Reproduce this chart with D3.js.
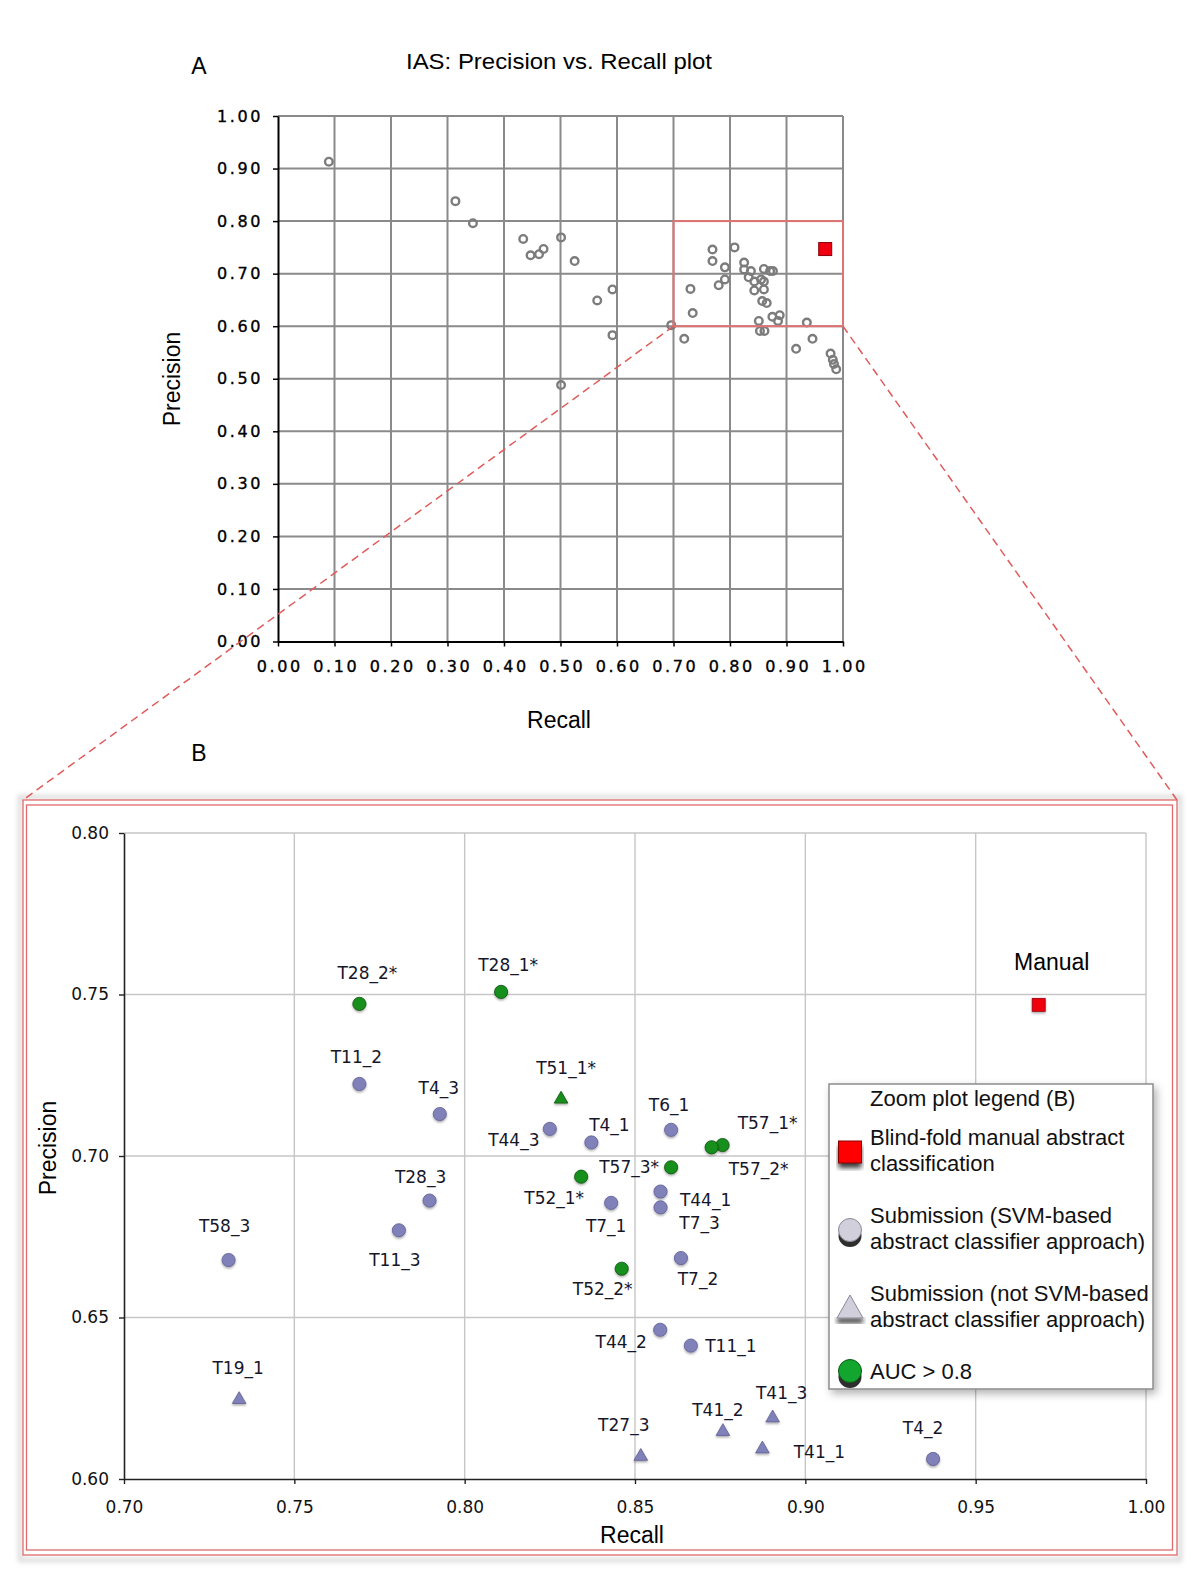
<!DOCTYPE html>
<html>
<head>
<meta charset="utf-8">
<script src="https://cdn.jsdelivr.net/npm/d3@7"></script>
<style>
body { margin: 0; background: #fff; }
svg { display: block; }
</style>
</head>
<body>
<script>
// ==================================================
// data
// ==================================================
// panel A: all submissions (recall / precision)
const overviewRecall = [
    0.090, 0.314, 0.345, 0.434, 0.447, 0.462, 0.470, 0.501, 0.525, 0.501,
    0.592, 0.565, 0.592, 0.696, 0.719, 0.730, 0.734, 0.769, 0.769, 0.808,
    0.791, 0.791, 0.780, 0.825, 0.825, 0.837, 0.833, 0.843, 0.860, 0.855,
    0.860, 0.871, 0.876, 0.860, 0.843, 0.857, 0.865, 0.875, 0.888, 0.885,
    0.851, 0.853, 0.861, 0.936, 0.946, 0.917, 0.978, 0.982, 0.984, 0.988
];
const overviewPrecision = [
    0.913, 0.838, 0.796, 0.766, 0.735, 0.737, 0.747, 0.769, 0.724, 0.488,
    0.670, 0.649, 0.583, 0.602, 0.576, 0.671, 0.625, 0.746, 0.724, 0.750,
    0.712, 0.689, 0.678, 0.721, 0.708, 0.705, 0.693, 0.685, 0.709, 0.689,
    0.685, 0.705, 0.705, 0.670, 0.668, 0.648, 0.644, 0.618, 0.621, 0.610,
    0.610, 0.591, 0.591, 0.607, 0.576, 0.557, 0.548, 0.536, 0.528, 0.518
];

// manual classification
const manualLabel = 'Manual';
const manualRecall = 0.9685;
const manualPrecision = 0.7468;

// panel B: labelled submissions
const zoomLabels = [
    'T28_2*', 'T28_1*', 'T11_2', 'T4_3', 'T51_1*', 'T44_3', 'T4_1', 'T6_1',
    'T57_1*', 'T57_2*', 'T57_3*', 'T52_1*', 'T7_1', 'T44_1', 'T7_3', 'T7_2',
    'T52_2*', 'T28_3', 'T11_3', 'T58_3', 'T19_1', 'T44_2', 'T11_1', 'T41_3',
    'T41_2', 'T27_3', 'T41_1', 'T4_2'
];
const zoomRecall = [
    0.7691, 0.8107, 0.7691, 0.7927, 0.8283, 0.8250, 0.8372, 0.8606,
    0.8757, 0.8725, 0.8606, 0.8342, 0.8430, 0.8575, 0.8575, 0.8635,
    0.8461, 0.7897, 0.7807, 0.7307, 0.7338, 0.8574, 0.8664, 0.8904,
    0.8758, 0.8517, 0.8874, 0.9375
];
const zoomPrecision = [
    0.7471, 0.7508, 0.7223, 0.7130, 0.7176, 0.7084, 0.7042, 0.7081,
    0.7034, 0.7027, 0.6965, 0.6936, 0.6855, 0.6890, 0.6841, 0.6684,
    0.6651, 0.6862, 0.6770, 0.6678, 0.6246, 0.6462, 0.6413, 0.6189,
    0.6147, 0.6070, 0.6093, 0.6062
];
// 'svm' = SVM-based abstract classifier, 'other' = not SVM-based
const zoomApproach = [
    'svm', 'svm', 'svm', 'svm', 'other', 'svm', 'svm', 'svm',
    'svm', 'svm', 'svm', 'svm', 'svm', 'svm', 'svm', 'svm',
    'svm', 'svm', 'svm', 'svm', 'other', 'svm', 'svm', 'other',
    'other', 'other', 'other', 'svm'
];
// AUC > 0.8
const zoomHighAuc = [
    true, true, false, false, true, false, false, false,
    true, true, true, true, false, false, false, false,
    true, false, false, false, false, false, false, false,
    false, false, false, false
];

// tick values
const overviewTicks = [0, 0.1, 0.2, 0.3, 0.4, 0.5, 0.6, 0.7, 0.8, 0.9, 1.0];
const zoomXTicks = [0.70, 0.75, 0.80, 0.85, 0.90, 0.95, 1.00];
const zoomYTicks = [0.60, 0.65, 0.70, 0.75, 0.80];

// legend entries
const legendTitle = 'Zoom plot legend (B)';
const legendLines = [
    ['Blind-fold manual abstract', 'classification'],
    ['Submission (SVM-based', 'abstract classifier approach)'],
    ['Submission (not SVM-based', 'abstract classifier approach)'],
    ['AUC > 0.8']
];

// ==================================================
// layout: label offsets (px) from each point in panel B
// ==================================================
const labelOffsets = [
    [8, -31], [7, -27], [-3, -27], [-1, -26], [5, -31], [-36, 11], [18, -17], [-2, -25],
    [45, -22], [47, 22], [-42, 0], [-27, 21], [-5, 23], [45, 8], [39, 16], [17, 21],
    [-19, 20], [-9, -24], [-4, 30], [-4, -34], [-1, -32], [-39, 12], [40, 0], [9, -25],
    [-5, -22], [-17, -31], [57, 3], [-10, -31]
];

const PURPLE = '#8181b9';
const PURPLE_DARK = '#5e5e94';
const GREEN = '#178f1c';
const GREEN_DARK = '#0b4f0d';
const RED = '#ee0010';

function drawGrid(g, xs, ys, xTicks, yTicks, color, width) {
    g.selectAll('line.vgrid')
        .data(xTicks.slice(1))
        .enter()
        .append('line')
        .attr('x1', d => xs(d)).attr('x2', d => xs(d))
        .attr('y1', ys.range()[0]).attr('y2', ys.range()[1])
        .attr('stroke', color)
        .attr('stroke-width', width);

    g.selectAll('line.hgrid')
        .data(yTicks.slice(1))
        .enter()
        .append('line')
        .attr('y1', d => ys(d)).attr('y2', d => ys(d))
        .attr('x1', xs.range()[0]).attr('x2', xs.range()[1])
        .attr('stroke', color)
        .attr('stroke-width', width);
}

function renderSVG() {
    const width = 1200;
    const height = 1585;

    const svg = d3.select('body')
        .append('svg')
        .attr('width', width)
        .attr('height', height);

    svg.append('rect')
        .attr('width', width).attr('height', height)
        .attr('fill', '#fff');

    const defs = svg.append('defs');
    defs.append('filter').attr('id', 'markShadow')
        .attr('x', '-50%').attr('y', '-50%').attr('width', '200%').attr('height', '200%')
        .append('feDropShadow')
        .attr('dx', 0).attr('dy', 1.5).attr('stdDeviation', 0.9)
        .attr('flood-color', '#000').attr('flood-opacity', 0.35);
    defs.append('filter').attr('id', 'boxShadow')
        .attr('x', '-10%').attr('y', '-10%').attr('width', '130%').attr('height', '130%')
        .append('feDropShadow')
        .attr('dx', 3).attr('dy', 4).attr('stdDeviation', 4)
        .attr('flood-color', '#000').attr('flood-opacity', 0.3);
    defs.append('filter').attr('id', 'soft')
        .append('feGaussianBlur').attr('stdDeviation', 2.5);

    // ==================================================
    // panel A: overview
    // ==================================================
    const ax = d3.scaleLinear().domain([0, 1]).range([278, 843]);
    const ay = d3.scaleLinear().domain([0, 1]).range([641.5, 116]);

    const gA = svg.append('g');
    drawGrid(gA, ax, ay, overviewTicks, overviewTicks, '#8a8a8a', 2);

    const tickFont = g => g.selectAll('text')
        .attr('font-family', 'DejaVu Sans, Verdana, sans-serif')
        .attr('font-size', '16px')
        .attr('letter-spacing', '2.6px')
        .attr('stroke', '#000')
        .attr('stroke-width', 0.35)
        .attr('fill', '#000');

    gA.append('g')
        .attr('transform', `translate(${ax(0)},0)`)
        .call(d3.axisLeft(ay).tickValues(overviewTicks).tickFormat(d3.format('.2f'))
            .tickSize(5).tickSizeOuter(0).tickPadding(10))
        .call(g => g.select('.domain').attr('stroke', '#000').attr('stroke-width', 2))
        .call(g => g.selectAll('.tick line').attr('stroke', '#000').attr('stroke-width', 1.5))
        .call(tickFont);

    gA.append('g')
        .attr('transform', `translate(0,${ay(0)})`)
        .call(d3.axisBottom(ax).tickValues(overviewTicks).tickFormat(d3.format('.2f'))
            .tickSize(5).tickSizeOuter(0).tickPadding(14))
        .call(g => g.select('.domain').attr('stroke', '#000').attr('stroke-width', 2))
        .call(g => g.selectAll('.tick line').attr('stroke', '#000').attr('stroke-width', 1.5))
        .call(tickFont)
        .call(g => g.selectAll('text').attr('dx', '1.3px'));

    const overview = overviewRecall.map((r, i) => ({ r, p: overviewPrecision[i] }));
    gA.selectAll('circle.ov')
        .data(overview)
        .enter()
        .append('circle')
        .attr('class', 'ov')
        .attr('cx', d => ax(d.r))
        .attr('cy', d => ay(d.p))
        .attr('r', 3.8)
        .attr('fill', 'none')
        .attr('stroke', '#7c7c7c')
        .attr('stroke-width', 2.4);

    gA.append('rect')
        .attr('x', ax(manualRecall) - 6.5)
        .attr('y', ay(manualPrecision) - 6.5)
        .attr('width', 13).attr('height', 13)
        .attr('fill', RED)
        .attr('stroke', '#8a0008')
        .attr('stroke-width', 1);

    // zoom window
    gA.append('rect')
        .attr('x', ax(0.7)).attr('y', ay(0.8))
        .attr('width', ax(1.0) - ax(0.7))
        .attr('height', ay(0.6) - ay(0.8))
        .attr('fill', 'none')
        .attr('stroke', '#e07474')
        .attr('stroke-width', 2);

    svg.append('text')
        .attr('x', 559).attr('y', 69)
        .attr('text-anchor', 'middle')
        .attr('font-family', 'Liberation Sans, Arial, sans-serif')
        .attr('font-size', '22.5px')
        .attr('textLength', 306)
        .attr('lengthAdjust', 'spacingAndGlyphs')
        .text('IAS: Precision vs. Recall plot');

    svg.append('text')
        .attr('x', 199).attr('y', 74)
        .attr('text-anchor', 'middle')
        .attr('font-family', 'Liberation Sans, Arial, sans-serif')
        .attr('font-size', '23px')
        .text('A');

    svg.append('text')
        .attr('x', 199).attr('y', 761)
        .attr('text-anchor', 'middle')
        .attr('font-family', 'Liberation Sans, Arial, sans-serif')
        .attr('font-size', '23px')
        .text('B');

    svg.append('text')
        .attr('x', 559).attr('y', 728)
        .attr('text-anchor', 'middle')
        .attr('font-family', 'Liberation Sans, Arial, sans-serif')
        .attr('font-size', '23px')
        .text('Recall');

    svg.append('text')
        .attr('transform', 'translate(180,379) rotate(-90)')
        .attr('text-anchor', 'middle')
        .attr('font-family', 'Liberation Sans, Arial, sans-serif')
        .attr('font-size', '23px')
        .text('Precision');

    // ==================================================
    // panel B frame and connectors
    // ==================================================
    const box = { x0: 23, y0: 800, x1: 1177, y1: 1555 };

    svg.append('rect')
        .attr('x', box.x0 - 3).attr('y', box.y0 - 3)
        .attr('width', box.x1 - box.x0 + 6).attr('height', box.y1 - box.y0 + 8)
        .attr('fill', 'none')
        .attr('stroke', '#d8d8d8')
        .attr('stroke-width', 4)
        .attr('filter', 'url(#soft)');

    [[ax(0.7), box.x0], [ax(1.0), box.x1]].forEach(([xa, xb]) => {
        svg.append('line')
            .attr('x1', xa).attr('y1', ay(0.6))
            .attr('x2', xb).attr('y2', box.y0)
            .attr('stroke', '#e05c5c')
            .attr('stroke-width', 1.5)
            .attr('stroke-dasharray', '8,5');
    });

    svg.append('rect')
        .attr('x', box.x0).attr('y', box.y0)
        .attr('width', box.x1 - box.x0).attr('height', box.y1 - box.y0)
        .attr('fill', '#fff')
        .attr('stroke', '#e06a6a')
        .attr('stroke-width', 1.3);

    svg.append('rect')
        .attr('x', box.x0 + 3.5).attr('y', box.y0 + 5)
        .attr('width', box.x1 - box.x0 - 8).attr('height', box.y1 - box.y0 - 10)
        .attr('fill', 'none')
        .attr('stroke', '#e06a6a')
        .attr('stroke-width', 1.3);

    // ==================================================
    // panel B: zoom plot
    // ==================================================
    const bx = d3.scaleLinear().domain([0.7, 1.0]).range([124, 1146]);
    const by = d3.scaleLinear().domain([0.6, 0.8]).range([1479, 833]);

    const gB = svg.append('g');
    drawGrid(gB, bx, by, zoomXTicks, zoomYTicks, '#c6c6c6', 1.4);

    const zoomTickFont = g => g.selectAll('text')
        .attr('font-family', 'DejaVu Sans, Verdana, sans-serif')
        .attr('font-size', '17px')
        .attr('fill', '#111');

    gB.append('g')
        .attr('transform', `translate(${bx(0.7)},0)`)
        .call(d3.axisLeft(by).tickValues(zoomYTicks).tickFormat(d3.format('.2f'))
            .tickSize(5).tickSizeOuter(0).tickPadding(10))
        .call(g => g.select('.domain').attr('stroke', '#222').attr('stroke-width', 1.6))
        .call(g => g.selectAll('.tick line').attr('stroke', '#222').attr('stroke-width', 1.4))
        .call(zoomTickFont);

    gB.append('g')
        .attr('transform', `translate(0,${by(0.6)})`)
        .call(d3.axisBottom(bx).tickValues(zoomXTicks).tickFormat(d3.format('.2f'))
            .tickSize(5).tickSizeOuter(0).tickPadding(17))
        .call(g => g.select('.domain').attr('stroke', '#222').attr('stroke-width', 1.6))
        .call(g => g.selectAll('.tick line').attr('stroke', '#222').attr('stroke-width', 1.4))
        .call(zoomTickFont);

    svg.append('text')
        .attr('x', 632).attr('y', 1543)
        .attr('text-anchor', 'middle')
        .attr('font-family', 'Liberation Sans, Arial, sans-serif')
        .attr('font-size', '23px')
        .text('Recall');

    svg.append('text')
        .attr('transform', 'translate(56,1148) rotate(-90)')
        .attr('text-anchor', 'middle')
        .attr('font-family', 'Liberation Sans, Arial, sans-serif')
        .attr('font-size', '23px')
        .text('Precision');

    const zoomPoints = zoomLabels.map((label, i) => ({
        label,
        r: zoomRecall[i],
        p: zoomPrecision[i],
        approach: zoomApproach[i],
        auc: zoomHighAuc[i],
        off: labelOffsets[i]
    }));

    const triangle = d3.symbol().type(d3.symbolTriangle).size(80);

    gB.selectAll('path.mark')
        .data(zoomPoints)
        .enter()
        .append('path')
        .attr('class', 'mark')
        .attr('transform', d => `translate(${bx(d.r)},${by(d.p)})`)
        .attr('d', d => d.approach === 'svm'
            ? d3.symbol().type(d3.symbolCircle).size(Math.PI * 6.6 * 6.6)()
            : triangle())
        .attr('fill', d => d.auc ? GREEN : PURPLE)
        .attr('stroke', d => d.auc ? GREEN_DARK : PURPLE_DARK)
        .attr('stroke-width', 0.8)
        .attr('filter', 'url(#markShadow)');

    gB.selectAll('text.pt-label')
        .data(zoomPoints)
        .enter()
        .append('text')
        .attr('class', 'pt-label')
        .attr('x', d => bx(d.r) + d.off[0])
        .attr('y', d => by(d.p) + d.off[1] + 6)
        .attr('text-anchor', 'middle')
        .attr('font-family', 'DejaVu Sans, Verdana, sans-serif')
        .attr('font-size', '17px')
        .attr('fill', '#16162a')
        .text(d => d.label);

    // manual point
    gB.append('rect')
        .attr('x', bx(manualRecall) - 6.5)
        .attr('y', by(manualPrecision) - 6.5)
        .attr('width', 13).attr('height', 13)
        .attr('fill', RED)
        .attr('stroke', '#9a0010')
        .attr('stroke-width', 0.8)
        .attr('filter', 'url(#markShadow)');

    gB.append('text')
        .attr('x', bx(manualRecall) + 13).attr('y', 970)
        .attr('text-anchor', 'middle')
        .attr('font-family', 'Liberation Sans, Arial, sans-serif')
        .attr('font-size', '23px')
        .text(manualLabel);

    // ==================================================
    // legend
    // ==================================================
    const lg = svg.append('g');
    lg.append('rect')
        .attr('x', 829).attr('y', 1084)
        .attr('width', 324).attr('height', 305)
        .attr('fill', '#fff')
        .attr('stroke', '#8c8c8c')
        .attr('stroke-width', 1.5)
        .attr('filter', 'url(#boxShadow)');

    const legendFont = sel => sel
        .attr('font-family', 'Liberation Sans, Arial, sans-serif')
        .attr('font-size', '22px')
        .attr('fill', '#111');

    lg.append('text')
        .attr('x', 870).attr('y', 1106)
        .call(legendFont)
        .text(legendTitle);

    const lineGap = 26;
    const itemGap = 78;
    const mx = 850;

    legendLines.forEach((lines, i) => {
        const base = 1145 + itemGap * i;
        lines.forEach((t, j) => {
            lg.append('text')
                .attr('x', 870).attr('y', base + j * lineGap)
                .call(legendFont)
                .text(t);
        });
        const cy = base - 8 + (lines.length - 1) * lineGap / 2 + (lines.length === 1 ? 0 : 2);

        const mark = lg.append('g').attr('transform', `translate(${mx},${cy})`);
        // dark shadow under each legend marker
        if (i === 0) {
            mark.append('rect').attr('x', -11.5).attr('y', -6).attr('width', 23).attr('height', 22)
                .attr('fill', '#3a3a3a').attr('filter', 'url(#soft)');
            mark.append('rect').attr('x', -11.5).attr('y', -11).attr('width', 23).attr('height', 22)
                .attr('fill', '#ff0000').attr('stroke', '#8a0000').attr('stroke-width', 1);
        } else if (i === 1) {
            mark.append('ellipse').attr('cx', 0).attr('cy', 6).attr('rx', 11.5).attr('ry', 11)
                .attr('fill', '#2e2e2e');
            mark.append('ellipse').attr('cx', 0).attr('cy', 0).attr('rx', 11.5).attr('ry', 11.5)
                .attr('fill', '#d2cfdc').attr('stroke', '#8c8898').attr('stroke-width', 1);
        } else if (i === 2) {
            mark.append('path').attr('d', 'M-13,10 L13,10 L13,15 L-13,15 Z')
                .attr('fill', '#2e2e2e').attr('filter', 'url(#soft)');
            mark.append('path').attr('d', 'M0,-13 L13,10 L-13,10 Z')
                .attr('fill', '#d2cfdc').attr('stroke', '#8c8898').attr('stroke-width', 1);
        } else {
            mark.append('ellipse').attr('cx', 0).attr('cy', 6).attr('rx', 11.5).attr('ry', 11)
                .attr('fill', '#2e2e2e');
            mark.append('ellipse').attr('cx', 0).attr('cy', 0).attr('rx', 11.5).attr('ry', 11.5)
                .attr('fill', '#12a62e').attr('stroke', '#0a5a14').attr('stroke-width', 1);
        }
    });
}

window.addEventListener('load', function() {
    renderSVG();
});
</script>
</body>
</html>
